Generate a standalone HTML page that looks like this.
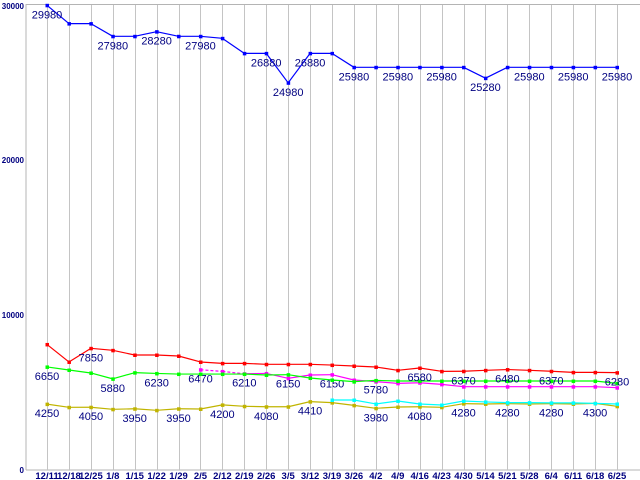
<!DOCTYPE html>
<html><head><meta charset="utf-8"><style>
html,body{margin:0;padding:0;background:#fff;}
svg{display:block;font-family:"Liberation Sans",sans-serif;}
</style></head><body>
<svg id="chart" width="640" height="480" viewBox="0 0 640 480" xmlns="http://www.w3.org/2000/svg"></svg>
<script>
const categories = ["12/11","12/18","12/25","1/8","1/15","1/22","1/29","2/5","2/12","2/19","2/26","3/5","3/12","3/19","3/26","4/2","4/9","4/16","4/23","4/30","5/14","5/21","5/28","6/4","6/11","6/18","6/25"];
const blueValues = [29980,28800,28800,27980,27980,28280,27980,27980,27850,26880,26880,24980,26880,26880,25980,25980,25980,25980,25980,25980,25280,25980,25980,25980,25980,25980,25980];
const redValues = [8100,6970,7850,7720,7420,7420,7355,6970,6880,6880,6820,6820,6820,6770,6710,6645,6430,6580,6365,6370,6430,6480,6430,6370,6300,6300,6280];
const greenValues = [6650,6450,6260,5880,6280,6230,6190,6190,6190,6190,6130,6150,5935,5806,5700,5780,5740,5740,5740,5740,5740,5740,5740,5740,5740,5740,5590];
const magentaValues = [null,null,null,null,null,null,null,6470,6360,6210,6230,5915,6130,6150,5806,5700,5590,5630,5525,5375,5375,5375,5375,5375,5375,5375,5310];
const cyanValues = [null,null,null,null,null,null,null,null,null,null,null,null,null,4516,4516,4260,4450,4260,4195,4450,4390,4345,4345,4330,4330,4300,4260];
const yellowValues = [4250,4045,4050,3915,3950,3850,3950,3935,4200,4110,4080,4080,4410,4345,4170,3980,4065,4080,4045,4280,4260,4280,4260,4280,4260,4300,4110];
const yTicks = [0,10000,20000,30000];
const blueLabels = [0,3,5,7,10,11,12,14,16,18,20,22,24,26];
const redLabels = [2,17,19,21,23,26];
const greenLabels = [0,3,5,11,15];
const magentaLabels = [7,9,13];
const yellowLabels = [0,2,4,6,8,10,12,15,17,19,21,23,25];

const NS="http://www.w3.org/2000/svg";
const svg=document.getElementById('chart');
const X0=47, X1=617, Y0=470, YTOP=5, VMAX=30000;
function xs(i){return X0+(X1-X0)*i/(categories.length-1);}
function ys(v){return Y0-(Y0-YTOP)*v/VMAX;}
function mk(tag,attrs,parent){const e=document.createElementNS(NS,tag);for(const k in attrs)e.setAttribute(k,attrs[k]);(parent||svg).appendChild(e);return e;}

const ax=mk('line',{x1:26,y1:ys(VMAX)-1,x2:26,y2:Y0,stroke:'#b4b4b4','stroke-width':1});


const bx=mk('line',{x1:26,y1:Y0,x2:640,y2:Y0,stroke:'#b4b4b4','stroke-width':1});


const tl=mk('line',{x1:26,y1:ys(VMAX)-0.5,x2:640,y2:ys(VMAX)-0.5,stroke:'#b4b4b4','stroke-width':1});


categories.forEach((c,i)=>{
  const g=mk('line',{x1:Math.round(xs(i))+0.5,y1:ys(VMAX),x2:Math.round(xs(i))+0.5,y2:Y0,stroke:'#c4c4c4','stroke-width':1});
  
  
  const t=mk('text',{x:xs(i),y:479,'text-anchor':'middle','font-size':9.5,'font-weight':'bold',fill:'#000080'});
  t.textContent=c;
  
  
});
yTicks.forEach(v=>{
  const t=mk('text',{x:24,y:ys(v)+(v===VMAX?4:3),'text-anchor':'end','font-size':8,'font-weight':'bold',fill:'#000080'});
  t.textContent=String(v);
  
  
});

function drawSeries(name,vals,color,labels,dashedUntil){
  const g=mk('g',{});
  
  
  for(let i=1;i<vals.length;i++){
    if(vals[i-1]==null||vals[i]==null)continue;
    const a={x1:xs(i-1),y1:ys(vals[i-1]),x2:xs(i),y2:ys(vals[i]),stroke:color,'stroke-width':1.2};
    if(dashedUntil!=null && i<=dashedUntil)a['stroke-dasharray']='3,2';
    const l=mk('line',a,g);
    
    
  }
  vals.forEach((v,i)=>{
    if(v==null)return;
    const r=mk('rect',{x:xs(i)-1.5,y:ys(v)-1.5,width:3.5,height:3.5,fill:color},g);
    
    
  });
  labels.forEach(i=>{
    const t=mk('text',{x:xs(i),y:ys(vals[i])+13,'text-anchor':'middle','font-size':11,fill:'#000080'},g);
    t.textContent=String(vals[i]);
    
    
  });
}
drawSeries('yellow',yellowValues,'#c0b400',yellowLabels);
drawSeries('cyan',cyanValues,'#00ffff',[]);
drawSeries('magenta',magentaValues,'#ff00ff',magentaLabels,9);
drawSeries('green',greenValues,'#00ff00',greenLabels);
drawSeries('red',redValues,'#ff0000',redLabels);
drawSeries('blue',blueValues,'#0000ff',blueLabels);
</script>
</body></html>
